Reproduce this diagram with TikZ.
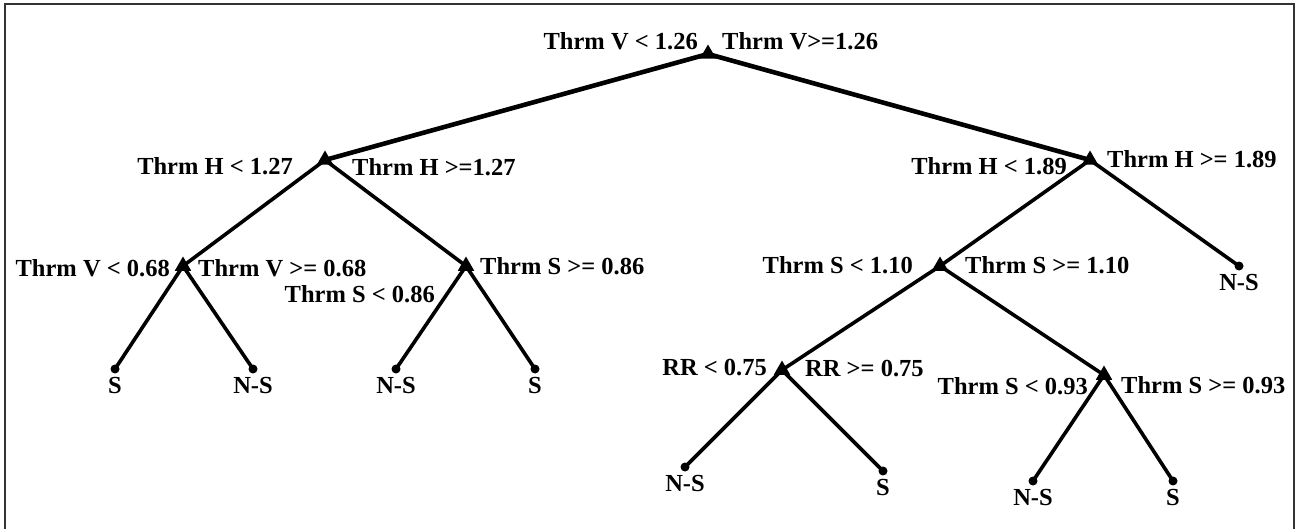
\documentclass[tikz,border=0pt]{standalone}
\usepackage{fontspec}
\setmainfont{Liberation Serif}
\usetikzlibrary{shapes.geometric}
\definecolor{frame-gray}{HTML}{333333}

\begin{document}
\begin{tikzpicture}[x=1pt, y=-1pt,
      every node/.style={font=\fontsize{24.5}{27}\selectfont\bfseries},
      split/.style={regular polygon, regular polygon sides=3, fill=black,
          inner sep=0pt, minimum size=19pt},
      leaf/.style={circle, fill=black, inner sep=0pt, minimum size=9pt,
          label distance=1pt},
      cond/.style={inner sep=0pt},
      branch/.style={line width=3.6pt, line cap=round}]
    \useasboundingbox (0,0) rectangle (1297,529);
    \draw[frame-gray, line width=2pt] (4.5,529) -- (4.5,4.5) -- (1293.5,4.5) -- (1293.5,529);
    \node[split] (T0) at (708,54) {};
    \node[split] (T1) at (325,160) {};
    \node[split] (T2) at (1090,160) {};
    \node[split] (T3) at (183,266) {};
    \node[split] (T4) at (466,266) {};
    \node[split] (T5) at (940,266) {};
    \node[split] (T6) at (782,370) {};
    \node[split] (T7) at (1104,375) {};
    \node[leaf, label={below:S}] (L1) at (115,369) {};
    \node[leaf, label={below:N-S}] (L2) at (253,369) {};
    \node[leaf, label={below:N-S}] (L3) at (396,369) {};
    \node[leaf, label={below:S}] (L4) at (535,369) {};
    \node[leaf, label={below:N-S}] (L5) at (1239,266) {};
    \node[leaf, label={below:N-S}] (L6) at (685,467) {};
    \node[leaf, label={below:S}] (L7) at (883,471) {};
    \node[leaf, label={below:N-S}] (L8) at (1033,481) {};
    \node[leaf, label={below:S}] (L9) at (1173,481) {};
    \draw[branch, line width=4.6pt] (T0.center) -- (T1.center);
    \draw[branch, line width=4.6pt] (T0.center) -- (T2.center);
    \draw[branch] (T1.center) -- (T3.center);
    \draw[branch] (T1.center) -- (T4.center);
    \draw[branch] (T2.center) -- (T5.center);
    \draw[branch] (T2.center) -- (L5.center);
    \draw[branch] (T3.center) -- (L1.center);
    \draw[branch] (T3.center) -- (L2.center);
    \draw[branch] (T4.center) -- (L3.center);
    \draw[branch] (T4.center) -- (L4.center);
    \draw[branch] (T5.center) -- (T6.center);
    \draw[branch] (T5.center) -- (T7.center);
    \draw[branch] (T6.center) -- (L6.center);
    \draw[branch] (T6.center) -- (L7.center);
    \draw[branch] (T7.center) -- (L8.center);
    \draw[branch] (T7.center) -- (L9.center);
    \node[cond, anchor=east] (C0a) at (698,41) {Thrm V < 1.26};
    \node[cond, anchor=west] (C0b) at (722,41) {Thrm V>=1.26};
    \node[cond, anchor=east] (C1a) at (293,166) {Thrm H < 1.27};
    \node[cond, anchor=west] (C1b) at (352,167) {Thrm H >=1.27};
    \node[cond, anchor=east] (C2a) at (1067,166) {Thrm H < 1.89};
    \node[cond, anchor=west] (C2b) at (1107,159) {Thrm H >= 1.89};
    \node[cond, anchor=east] (C3a) at (170,268) {Thrm V < 0.68};
    \node[cond, anchor=west] (C3b) at (198,268) {Thrm V >= 0.68};
    \node[cond, anchor=east] (C4a) at (435,294) {Thrm S < 0.86};
    \node[cond, anchor=west] (C4b) at (480,266) {Thrm S >= 0.86};
    \node[cond, anchor=east] (C5a) at (913,265) {Thrm S < 1.10};
    \node[cond, anchor=west] (C5b) at (965,265) {Thrm S >= 1.10};
    \node[cond, anchor=east] (C6a) at (767,368) {RR < 0.75};
    \node[cond, anchor=west] (C6b) at (805,369) {RR >= 0.75};
    \node[cond, anchor=east] (C7a) at (1088,386) {Thrm S < 0.93};
    \node[cond, anchor=west] (C7b) at (1121,385) {Thrm S >= 0.93};
  \end{tikzpicture}
\end{document}
